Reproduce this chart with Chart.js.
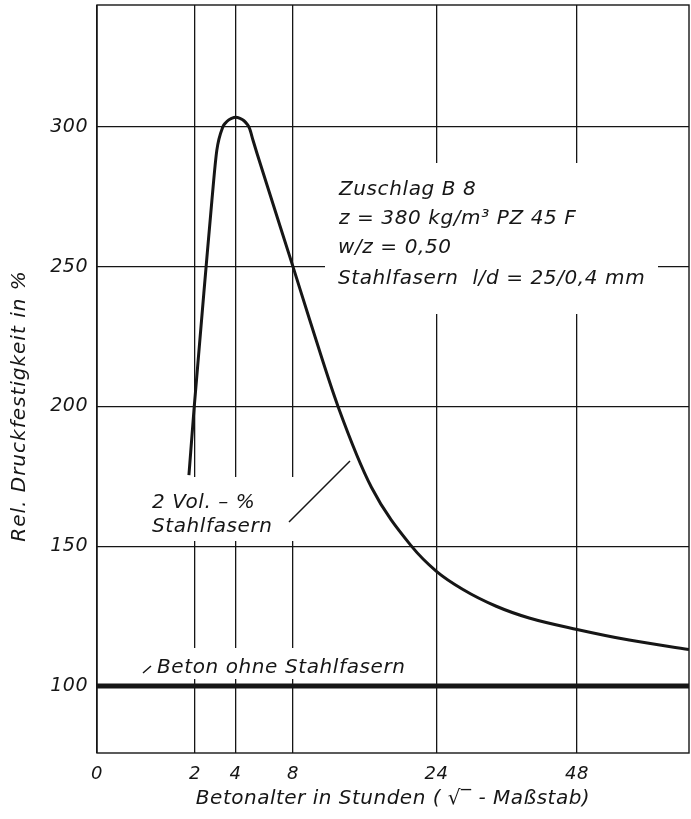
<!DOCTYPE html>
<html>
<head>
<meta charset="utf-8">
<script src="https://cdn.jsdelivr.net/npm/chart.js@4"></script>
<style>
  html, body { margin: 0; padding: 0; background: #fff; }
  canvas { display: block; }
</style>
</head>
<body>
<canvas id="graph" width="691" height="819"></canvas>
<script>
// age in hours (x axis is drawn on a square-root scale)
const xTickHours = [0, 2, 4, 8, 24, 48];
const yTicks = [100, 150, 200, 250, 300];

// 2 Vol.-% Stahlfasern
const fiberHours = [1.76, 1.97, 2.48, 2.75, 2.99, 3.3, 3.44, 3.6, 3.77, 4.0, 4.26, 4.5, 4.69, 4.85, 5.07, 5.34, 6.19, 8.0, 9.42, 12.1, 15.7, 20.6, 24, 27.9, 33.2, 38.9, 48, 59, 73];
const fiberValues = [175.4, 200, 250, 273.7, 291.6, 300, 301.4, 302.4, 303.0, 303.4, 303.0, 302.2, 301.0, 299.4, 295.2, 290.4, 276.5, 250, 231, 200, 171, 150, 141, 134.5, 128.5, 124.3, 120.2, 116.4, 113];

// Beton ohne Stahlfasern
const plainHours = [0, 73];
const plainValues = [100, 100];

const ink = '#161616';
const font = size => ({ family: '"DejaVu Sans", sans-serif', size: size, style: 'italic' });

const spacing = {
    id: 'spacing',
    beforeDraw(chart) { chart.ctx.letterSpacing = '0.5px'; }
};

// white boxes behind labels, then the labels
const labels = {
    id: 'labels',
    beforeDatasetsDraw(chart) {
        const c = chart.ctx;
        const a = chart.chartArea;
        c.save();
        c.fillStyle = '#fff';
        c.fillRect(325, 163, 333, 151);
        c.fillRect(145, 477, 153, 64);
        c.fillRect(140, 648, 265, 31);

        c.fillStyle = ink;
        c.letterSpacing = '0.6px';
        c.font = 'italic 20px "DejaVu Sans", sans-serif';
        c.textBaseline = 'alphabetic';
        c.fillText('Zuschlag B 8', 339, 195);
        c.fillText('z = 380 kg/m³ PZ 45 F', 339, 224);
        c.fillText('w/z = 0,50', 338, 253);
        c.fillText('Stahlfasern  l/d = 25/0,4 mm', 338, 284);
        c.fillText('2 Vol. – %', 152, 508);
        c.fillText('Stahlfasern', 152, 532);
        c.fillText('Beton ohne Stahlfasern', 157, 673);

        c.strokeStyle = ink;
        c.lineWidth = 1.5;
        c.beginPath();
        c.moveTo(289, 522);
        c.lineTo(350, 461);
        c.moveTo(143, 673);
        c.lineTo(151, 666);
        c.stroke();

        // frame
        c.lineWidth = 1.4;
        c.strokeRect(a.left, a.top, a.right - a.left, a.bottom - a.top);

        // y title
        c.translate(20, 406);
        c.rotate(-Math.PI / 2);
        c.textAlign = 'center';
        c.textBaseline = 'middle';
        c.letterSpacing = '1px';
        c.font = 'italic 20px "DejaVu Sans", sans-serif';
        c.fillText('Rel. Druckfestigkeit in %', 0, 0);
        c.restore();
    }
};

new Chart(document.getElementById('graph').getContext('2d'), {
    type: 'line',
    data: {
        datasets: [
            {
                label: '2 Vol.-% Stahlfasern',
                data: fiberHours.map((h, i) => ({ x: Math.sqrt(h), y: fiberValues[i] })),
                borderColor: ink,
                borderWidth: 3,
                pointRadius: 0,
                cubicInterpolationMode: 'monotone'
            },
            {
                label: 'Beton ohne Stahlfasern',
                data: plainHours.map((h, i) => ({ x: Math.sqrt(h), y: plainValues[i] })),
                borderColor: ink,
                borderWidth: 5,
                pointRadius: 0
            }
        ]
    },
    options: {
        responsive: false,
        animation: false,
        layout: { padding: { top: 5, right: 2, left: 0, bottom: 0 } },
        plugins: {
            legend: { display: false },
            tooltip: { enabled: false }
        },
        scales: {
            x: {
                type: 'linear',
                min: 0,
                max: Math.sqrt(73),
                afterBuildTicks: s => { s.ticks = xTickHours.map(h => ({ value: Math.sqrt(h) })); },
                afterFit: s => { s.height = 66; s.paddingLeft = 0; s.paddingRight = 0; },
                grid: { color: ink, lineWidth: 1.3, drawTicks: false },
                border: { display: false },
                ticks: {
                    color: ink,
                    font: font(18),
                    padding: 11,
                    maxRotation: 0,
                    autoSkip: false,
                    callback: v => Math.round(v * v)
                },
                title: {
                    display: true,
                    text: 'Betonalter in Stunden ( √‾ - Maßstab)',
                    color: ink,
                    font: font(20),
                    padding: { top: 0, bottom: 8 }
                }
            },
            y: {
                min: 76,
                max: 343.6,
                afterBuildTicks: s => { s.ticks = yTicks.map(v => ({ value: v })); },
                afterFit: s => { s.width = 97; s.paddingTop = 0; s.paddingBottom = 0; },
                grid: { color: ink, lineWidth: 1.3, drawTicks: false },
                border: { display: false },
                ticks: {
                    color: ink,
                    font: font(19),
                    padding: 9
                }
            }
        }
    },
    plugins: [spacing, labels]
});
</script>
</body>
</html>
